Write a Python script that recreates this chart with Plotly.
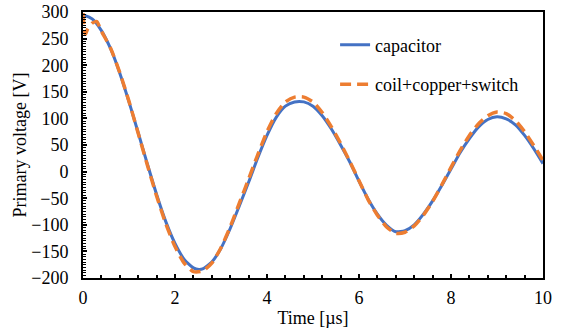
import plotly.graph_objects as go

# Time [µs] and voltage [V]
t_cap = [0.0, 0.2, 0.4, 0.6, 0.8, 1.0, 1.2, 1.4, 1.6, 1.8, 2.0, 2.2, 2.4, 2.52,
         2.6, 2.8, 3.0, 3.2, 3.4, 3.6, 3.8, 4.0, 4.2, 4.4, 4.6, 4.8, 5.0, 5.2,
         5.4, 5.6, 5.8, 6.0, 6.2, 6.4, 6.6, 6.8, 7.0, 7.2, 7.4, 7.6, 7.8, 8.0,
         8.2, 8.4, 8.6, 8.8, 9.0, 9.2, 9.4, 9.6, 9.8, 10.0]
v_cap = [295, 287, 265, 231, 185, 131, 73, 14, -43, -94, -135, -165, -181, -184,
         -183, -170, -144, -107, -64, -20, 26, 68, 102, 123, 131, 131, 123, 105,
         80, 50, 18, -18, -52, -80, -101, -113, -111, -100, -80, -55, -26, 5,
         36, 62, 84, 98, 103, 99, 88, 68, 43, 15]

t_coil = [0.0, 0.05, 0.1, 0.2, 0.3, 0.4, 0.6, 0.8, 1.0, 1.2, 1.4, 1.6, 1.8,
          2.0, 2.2, 2.4, 2.6, 2.8, 3.0, 3.2, 3.4, 3.6, 3.8, 4.0, 4.2, 4.4, 4.6,
          4.8, 5.0, 5.2, 5.4, 5.6, 5.8, 6.0, 6.2, 6.4, 6.6, 6.8, 7.0, 7.2, 7.4,
          7.6, 7.8, 8.0, 8.2, 8.4, 8.6, 8.8, 9.0, 9.2, 9.4, 9.6, 9.8, 10.0]
v_coil = [298, 258, 268, 279, 282, 264, 232, 186, 132, 72, 12, -46, -98,
          -141, -172, -188, -187, -172, -143, -104, -59, -14, 32, 75, 109, 131, 140,
          140, 131, 111, 84, 53, 19, -17, -53, -82, -104, -116, -114, -102, -82,
          -56, -25, 8, 40, 68, 90, 105, 112, 109, 96, 75, 49, 21]

x_ticks = [0, 2, 4, 6, 8, 10]
y_ticks = [-200, -150, -100, -50, 0, 50, 100, 150, 200, 250, 300]

FONT = "Liberation Serif, Times New Roman, serif"

fig = go.Figure()
fig.add_trace(go.Scatter(
    x=t_cap, y=v_cap, mode="lines", name="capacitor", legendgroup="a",
    line=dict(color="#4472C4", width=3, shape="spline", smoothing=0.6)))
fig.add_trace(go.Scatter(
    x=t_coil, y=v_coil, mode="lines", name="coil+copper+switch", legendgroup="b",
    line=dict(color="#ED7D31", width=3.5, dash="11px,6px", shape="spline", smoothing=0.6)))

axis_common = dict(
    showline=True, linecolor="black", linewidth=2, mirror=True,
    showgrid=False, zeroline=False, ticks="inside", tickcolor="black",
    ticklen=4, tickwidth=2, automargin=False,
    tickfont=dict(family=FONT, size=18, color="black"),
)

fig.update_xaxes(
    range=[0, 10], tickvals=x_ticks, ticklabelstandoff=2,
    title=dict(text="Time [µs]", font=dict(family=FONT, size=18, color="black"), standoff=5),
    minor=dict(dtick=0.4, ticks="inside", ticklen=3, tickcolor="black", tickwidth=2),
    **axis_common)
fig.update_yaxes(
    range=[-200, 300], tickvals=y_ticks, ticklabelstandoff=9,
    title=dict(text="Primary voltage [V]", font=dict(family=FONT, size=18, color="black"), standoff=0),
    minor=dict(dtick=5, ticks="inside", ticklen=3, tickcolor="black", tickwidth=1),
    **axis_common)

fig.update_layout(
    width=561, height=331,
    margin=dict(l=83, r=18, t=12, b=53),
    paper_bgcolor="white", plot_bgcolor="white",
    font=dict(family=FONT, size=18, color="black"),
    showlegend=True,
    legend=dict(x=0.548, y=0.945, xanchor="left", yanchor="top",
                bgcolor="rgba(0,0,0,0)", borderwidth=0,
                traceorder="grouped", tracegroupgap=13,
                font=dict(family=FONT, size=18, color="black")),
)

fig.write_html("out.html")
